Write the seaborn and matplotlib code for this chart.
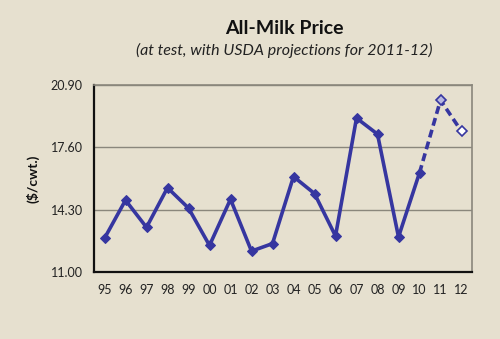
import matplotlib
matplotlib.use("Agg")
import matplotlib.pyplot as plt
import seaborn as sns
import pandas as pd
import numpy as np

years = ["95","96","97","98","99","00","01","02","03","04","05","06","07","08","09","10","11","12"]
prices = [12.78, 14.80, 13.36, 15.46, 14.38, 12.40, 14.85, 12.10, 12.50, 16.05, 15.15, 12.90, 19.15, 18.30, 12.85, 16.25, 20.10, 18.45]
yticks = [11.00, 14.30, 17.60, 20.90]

sns.set_theme(style="white")
plt.rcParams['font.family'] = ['Lato', 'DejaVu Sans']
bg = "#e6e0cf"
col = "#3636a0"

fig = plt.figure(figsize=(5.0, 3.39), dpi=100, facecolor=bg)
ax = fig.add_axes([0.188, 0.198, 0.756, 0.551], facecolor=bg)

df = pd.DataFrame({"x": np.arange(len(years)), "price": prices, "year": years})
actual = df.iloc[:16]
proj = df.iloc[15:]

for y in yticks[1:]:
    ax.axhline(y, color="#8a877c", lw=1.0, zorder=1)

sns.lineplot(data=actual, x="x", y="price", ax=ax, color=col, lw=2.6,
             marker="D", markersize=5.5, markeredgecolor=col, zorder=3)
sns.lineplot(data=proj, x="x", y="price", ax=ax, color=col, lw=2.6,
             linestyle=(0, (2.2, 1.2)), zorder=2)
ax.plot(proj["x"].iloc[1:2], proj["price"].iloc[1:2], marker="D", ms=5.5, color=col,
        mfc="#b8b8e0", mec=col, mew=1.2, ls="none", zorder=4)
ax.plot(proj["x"].iloc[2:3], proj["price"].iloc[2:3], marker="D", ms=5.5, color=col,
        mfc="white", mec=col, mew=1.2, ls="none", zorder=4)

ax.set_xlim(-0.5, len(years) - 0.5)
ax.set_ylim(11.0, 20.9)
ax.set_yticks(yticks)
ax.set_yticklabels([f"{v:.2f}" for v in yticks], fontsize=9, color="#222222")
ax.set_xticks(np.arange(len(years)))
ax.set_xticklabels(years, fontsize=9, color="#222222")
ax.set_xticks(np.arange(len(years)) + 0.5, minor=True)
ax.tick_params(axis="x", which="major", length=0, pad=9)
ax.tick_params(axis="x", which="minor", length=4, width=0.8, color="#555555", direction="out")
ax.tick_params(axis="y", length=4, width=0.8, color="#555555", direction="out", pad=4)
ax.set_xlabel("")
ax.set_ylabel("($/cwt.)", fontsize=10, fontweight="bold", labelpad=8, color="#111111")

for s in ["left", "bottom"]:
    ax.spines[s].set_color("#111111")
    ax.spines[s].set_linewidth(1.6)
for s in ["top", "right"]:
    ax.spines[s].set_color("#8a877c")
    ax.spines[s].set_linewidth(1.2)

fig.text(0.568, 0.915, "All-Milk Price", ha="center", va="center", fontsize=14, fontweight="bold", color="#111111")
fig.text(0.568, 0.852, "(at test, with USDA projections for 2011-12)", ha="center", va="center",
         fontsize=11.5, style="italic", color="#222222")

fig.savefig("out.png", dpi=100, facecolor=bg)
